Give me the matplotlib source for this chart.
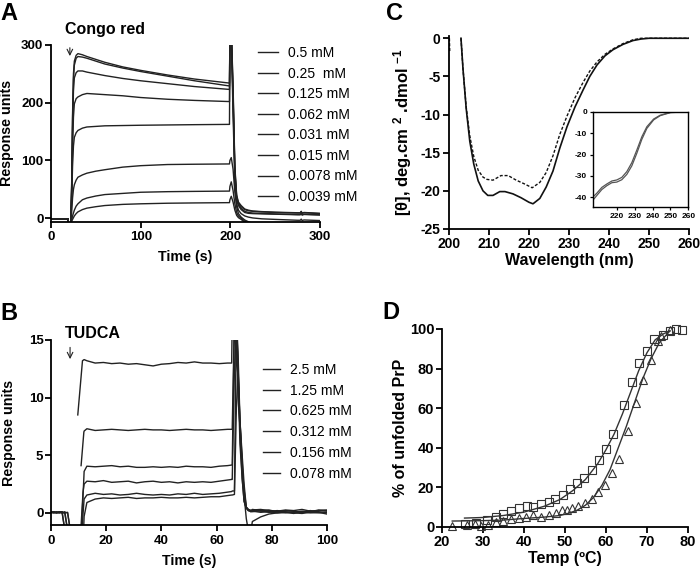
import matplotlib
matplotlib.use('Agg')
import matplotlib.pyplot as plt
import numpy as np

plt.rcParams['font.family'] = ['Liberation Sans', 'DejaVu Sans']
plt.rcParams['mathtext.fontset'] = 'custom'
plt.rcParams['mathtext.rm'] = 'Liberation Sans'
plt.rcParams['mathtext.bf'] = 'Liberation Sans:bold'
plt.rcParams['mathtext.default'] = 'bf'
plt.rcParams['axes.unicode_minus'] = False

# ---------------- panel A: Congo red sensorgrams ----------------
a_labels = ['0.5 mM', '0.25  mM', '0.125 mM', '0.062 mM', '0.031 mM',
            '0.015 mM', '0.0078 mM', '0.0039 mM']
a_base_t = [0, 19, 19.5, 22]
a_base_v = [-1, -1, -10, -10]
a_assoc_t = [23, 24, 25, 26, 28, 30, 35, 40, 50, 60, 80, 100, 130, 160, 199]
a_assoc = [
    [60, 180, 250, 272, 282, 285, 283, 280, 275, 270, 262, 256, 248, 241, 234],
    [55, 170, 240, 265, 277, 280, 279, 277, 272, 267, 260, 254, 246, 238, 229],
    [50, 150, 220, 243, 252, 255, 255, 253, 250, 247, 242, 238, 233, 228, 223],
    [40, 120, 175, 198, 207, 210, 214, 216, 215, 214, 212, 209, 206, 204, 202],
    [30, 90, 125, 140, 148, 152, 156, 158, 159, 160, 160.5, 161, 161.5, 162, 162.5],
    [10, 35, 50, 58, 66, 71, 75, 78, 81.5, 84, 88.5, 91, 93, 93.5, 94],
    [-3, 4, 9, 14, 21, 25, 32, 35, 38.5, 41, 43, 45, 46, 46.5, 47],
    [-5, -2, 1, 4, 8, 11, 15, 17.5, 20, 22, 24, 25, 26, 26.5, 27],
]
a_diss_t = [199.5, 201, 203, 205, 207, 209, 212, 216, 220, 225, 235, 250,
            275, 278, 279, 280, 282, 300]
a_diss = [
    [320, 330, 230, 90, 40, 28, 22, 16, 14, 12.5, 11.5, 10.5, 9.5, 9.5, 12, 9, 10, 8.5],
    [320, 330, 220, 85, 38, 26, 20, 15, 13, 12, 11, 10, 9, 9, 11.5, 8.5, 9.5, 8],
    [315, 325, 210, 80, 35, 24, 17, 12, 10, 9, 8.5, 7.5, 6.5, 6.5, 8.5, 6, 7, 6],
    [310, 320, 200, 75, 32, 22, 15, 10, 8.5, 8, 7.5, 7, 6, 6, 8, 5.5, 6.5, 5.5],
    [305, 315, 180, 60, 25, 14, 8, 4, 2, 0.5, -1, -2, -3.5, -3.5, -1.5, -4, -3, -4],
    [100, 105, 85, 45, 20, 8, 2, -3, -6, -9, -10, -10, -10, -10, -10, -10, -10, -10],
    [55, 63, 48, 25, 10, 4, 0, -5, -9, -10, -10, -10, -10, -10, -10, -10, -10, -10],
    [32, 38, 28, 14, 5, 1, -2, -7, -10, -10, -10, -10, -10, -10, -10, -10, -10, -10],
]

# ---------------- panel B: TUDCA sensorgrams ----------------
b_labels = ['2.5 mM', '1.25 mM', '0.625 mM', '0.312 mM', '0.156 mM', '0.078 mM']
b_base_t = [0, 1, 2, 3, 4, 5, 6, 7]
b_base = [
    [0.1, 0.05, 0.0, 0.1, 0.05, -1.5, -1.5, -1.5],
    [0.0, 0.1, 0.05, 0.0, 0.1, -0.05, -1.5, -1.5],
    [0.05, 0.0, 0.1, 0.05, 0.0, 0.1, -1.5, -1.5],
    [0.0, 0.05, 0.0, 0.1, 0.0, 0.05, 0.0, -1.5],
    [0.1, 0.0, 0.05, 0.0, 0.05, 0.0, 0.05, -1.5],
    [0.05, 0.1, 0.0, 0.05, 0.1, -1.5, -1.5, -1.5],
]
b_start_t = [[9.7, 11.4], [10.9, 11.9], [11.0, 11.8], [10.8, 11.6], [11.2, 11.9], [11.8, 11.95]]
b_start_v = [[8.5, 13.2], [4.1, 7.0], [-1.5, 2.5], [-1.5, 1.8], [-1.5, 0.9], [-1.5, -0.6]]
b_plat_t = [12, 13, 16, 19, 22, 25, 28, 31, 34, 37, 40, 43, 46, 49, 52, 55, 58, 61, 64, 65.5]
b_plat = [
    [13.3, 13.2, 13.0, 13.05, 12.95, 13.0, 12.9, 12.95, 12.85, 12.75, 12.9, 12.95,
     13.05, 13.0, 13.1, 13.0, 13.0, 12.95, 13.0, 13.0],
    [7.1, 7.3, 7.15, 7.2, 7.25, 7.2, 7.15, 7.2, 7.25, 7.2, 7.2, 7.15, 7.2, 7.25,
     7.2, 7.2, 7.15, 7.2, 7.25, 7.25],
    [3.6, 4.05, 4.0, 4.05, 4.1, 4.0, 4.05, 3.95, 3.95, 4.0, 3.95, 4.0, 3.95, 4.05,
     4.0, 4.0, 3.95, 4.05, 4.1, 4.15],
    [2.5, 2.75, 2.7, 2.8, 2.65, 2.7, 2.75, 2.6, 2.7, 2.75, 2.65, 2.7, 2.6, 2.7,
     2.65, 2.7, 2.65, 2.75, 2.85, 2.9],
    [1.2, 1.55, 1.7, 1.6, 1.65, 1.55, 1.6, 1.7, 1.6, 1.55, 1.6, 1.55, 1.65, 1.6,
     1.7, 1.6, 1.65, 1.7, 1.8, 1.85],
    [-0.3, 0.9, 1.2, 1.3, 1.25, 1.3, 1.35, 1.25, 1.3, 1.3, 1.35, 1.3, 1.3, 1.35,
     1.3, 1.35, 1.4, 1.4, 1.5, 1.55],
]
b_spike_t = [65.7, 66.5, 67.2, 67.8, 68.5, 69.3, 70, 70.8, 71.5, 72.5]
b_spike = [
    [17, 17, 17, 14, 8, 4, 1.5, 0.5, 0.3, 0.2],
    [7.3, 17, 17, 13, 7, 3, 1, 0.4, 0.2, 0.2],
    [4.2, 17, 13, 12, 6, 3, 1, 0.4, 0.3, 0.2],
    [2.9, 12.5, 16, 10, 7.5, 4, 2, 0.5, 0.3, 0.1],
    [1.9, 1.9, 17, 12, 8, 4.5, 1.5, -0.5, -1.5, -1.5],
    [1.55, 1.6, 9, 12.5, 8, 5, 2.5, 0.5, 0.2, 0.1],
]
b_tail_t = [73, 76, 79, 82, 85, 88, 91, 94, 97, 100]
b_tail = [
    [0.2, 0.15, 0.1, 0.2, 0.1, 0.05, 0.15, 0.1, 0.2, 0.15],
    [0.1, 0.2, 0.05, 0.1, 0.0, 0.1, 0.05, 0.2, 0.1, 0.0],
    [0.3, 0.2, 0.25, 0.1, 0.2, 0.15, 0.05, 0.1, 0.25, 0.2],
    [0.15, 0.05, 0.1, 0.0, 0.05, -0.05, 0.1, 0.0, 0.05, -0.1],
    [-0.75, -0.35, -0.1, 0.0, 0.05, 0.0, -0.05, 0.05, 0.0, 0.05],
    [0.25, 0.3, 0.2, 0.15, 0.25, 0.2, 0.3, 0.15, 0.2, 0.25],
]

# ---------------- panel C: CD spectra ----------------
c_wl_solid = [203, 203.5, 204.3, 205.2, 206.2, 207.3, 208.5, 209.7, 211, 212.7, 214,
              216, 218, 220, 221, 222.7, 224.3, 226, 227.7, 229.5, 231.5, 233.5,
              235.2, 237, 239, 241, 243.5, 246, 248, 250, 255, 260]
c_solid = [0, -4, -9.2, -13.5, -16.5, -18.7, -20, -20.6, -20.6, -20.1, -20.1,
           -20.4, -20.9, -21.5, -21.7, -21, -19.5, -17.4, -14.4, -11.6, -9, -6.8,
           -5, -3.5, -2.3, -1.5, -0.8, -0.3, -0.1, 0, 0, 0]
c_wl_dash = [200.1, 200.2, np.nan, 203, 203.5, 204.3, 205.2, 206.2, 207.3, 208.5,
             209.5, 211, 213, 214.8, 216.8, 218.9, 220.8, 222.7, 224.3, 226, 227.7,
             229.5, 231.5, 233.5, 235.2, 237, 239, 241, 243.5, 246, 248, 250, 255, 260]
c_dash = [0, -1.9, np.nan, 0, -4, -9, -12.8, -15.5, -17.3, -18.2,
          -18.5, -18.6, -18.0, -18.0, -18.6, -19.1, -19.6, -18.9, -17.6, -15.4, -12.6,
          -10.2, -7.8, -5.8, -4.3, -3.1, -2.1, -1.4, -0.7, -0.2, 0, 0, 0, 0]
inset_wl_1 = [206.5, 208.7, 211.6, 214.4, 217.2, 220, 222.8, 225.6, 228.4, 231.2,
              234, 236.8, 240.6, 244.3, 250, 260]
inset_v_1 = [-40, -38.2, -35.4, -33.8, -32.4, -31.9, -30.7, -28, -23.8, -17.9,
             -11.7, -7, -3.4, -1.6, -0.3, 0]
inset_wl_2 = [206.5, 208.7, 211.6, 214.4, 217.2, 220, 222.8, 225.6, 228.4, 231.2,
              234, 236.8, 240.6, 244.3, 250, 260]
inset_v_2 = [-41.5, -39.3, -36.4, -34.6, -33.2, -32.9, -31.8, -29.3, -25.3, -19.4,
             -12.9, -7.8, -3.8, -1.8, -0.4, 0]

# ---------------- panel D: thermal unfolding ----------------
d_sq_t = [25.7, 28.4, 30.9, 33.1, 35.0, 36.9, 38.7, 40.7, 42.1, 44.2, 46.0, 47.6,
          49.4, 51.2, 53.0, 54.6, 56.5, 58.3, 59.9, 61.8, 64.4, 66.3, 68.1, 70.1,
          71.8, 73.8, 75.7, 77.2, 78.5]
d_sq_v = [1.5, 2.0, 3.5, 5.0, 6.5, 8.0, 9.5, 10.5, 10.0, 11.5, 12.5, 14.0,
          16.0, 19.0, 22.0, 24.8, 28.7, 33.7, 39.5, 47.0, 61.4, 73.1, 82.9, 88.8,
          95.0, 97.0, 99.0, 100, 99.5]
d_tri_t = [22.4, 26.0, 28.0, 29.5, 31.3, 33.2, 35.0, 36.9, 38.7, 40.5, 42.3, 44.1,
           46.0, 47.8, 49.2, 50.4, 51.8, 53.2, 54.9, 56.5, 58.1, 59.8, 61.5, 63.2,
           65.4, 67.3, 69.1, 70.9, 72.6, 73.4, 75.6]
d_tri_v = [0.5, 1.2, 1.5, 0.3, 0.8, 2.5, 3.2, 3.8, 4.5, 5.2, 5.8, 5.0,
           6.0, 7.0, 8.5, 8.8, 9.7, 10.5, 11.9, 13.9, 17.6, 21.0, 27.4, 34.4,
           48.4, 62.7, 74.0, 84.2, 93.8, 96.4, 99.4]
d_fit_sq_t = [25.5, 30, 35, 40, 45, 48.8, 52, 55, 58, 60, 62, 64, 66, 68, 70, 72, 74, 75.6]
d_fit_sq_v = [4.5, 4.8, 5.8, 7.5, 10.5, 13.9, 18.5, 24, 32, 39, 47, 57, 68, 79, 88, 94.5, 97.5, 99]
d_fit_tri_t = [22.5, 30, 35, 40, 45, 48.8, 51, 53, 55, 57, 59, 61, 63, 65, 67, 69, 71, 73, 75.6]
d_fit_tri_v = [3.0, 3.2, 3.5, 4.3, 5.0, 5.8, 7.0, 8.5, 11, 15, 21, 29, 40, 51, 63, 75, 85, 93, 99]

line_col = '#222222'


def style(ax, size, xpad, ypad):
    for s in ['top', 'right']:
        ax.spines[s].set_visible(False)
    for s in ['left', 'bottom']:
        ax.spines[s].set_linewidth(1.3)
    ax.tick_params(direction='out', length=4, width=1.3, labelsize=size)
    ax.tick_params(axis='x', pad=xpad)
    ax.tick_params(axis='y', pad=ypad)
    for lab in ax.get_xticklabels() + ax.get_yticklabels():
        lab.set_fontweight('bold')


fig = plt.figure(figsize=(7, 5.72), dpi=100)

# ---- A ----
axA = fig.add_axes([0.0729, 0.6124, 0.3843, 0.309])
for i in range(8):
    t = a_base_t + a_assoc_t + a_diss_t
    v = a_base_v + a_assoc[i] + a_diss[i]
    axA.plot(t, v, color=line_col, lw=1.0, label=a_labels[i])
axA.set_xlim(0, 300)
axA.set_ylim(-6, 300)
axA.set_xticks([0, 100, 200, 300])
axA.set_yticks([0, 100, 200, 300])
style(axA, 9.5, 3, 1.5)
axA.set_xlabel('Time (s)', fontsize=10.3, fontweight='bold', labelpad=5)
axA.set_ylabel('Response units', fontsize=10.3, fontweight='bold', labelpad=5)
axA.text(15.6, 319, 'Congo red', fontsize=11.5, fontweight='bold', va='baseline')
axA.annotate('', xy=(21, 276), xytext=(21, 300), annotation_clip=False,
             arrowprops=dict(arrowstyle='->', lw=0.8, color=line_col))
axA.legend(loc='upper left', bbox_to_anchor=(0.7695, 0.993), frameon=False,
           fontsize=10, borderpad=0, borderaxespad=0, handlelength=1.45,
           handletextpad=0.72, labelspacing=0.47)

# ---- B ----
axB = fig.add_axes([0.0729, 0.0822, 0.394, 0.3234])
for i in range(6):
    t = b_base_t + [np.nan] + b_start_t[i] + b_plat_t + b_spike_t + b_tail_t
    v = b_base[i] + [np.nan] + b_start_v[i] + b_plat[i] + b_spike[i] + b_tail[i]
    axB.plot(t, v, color=line_col, lw=1.0, label=b_labels[i])
axB.set_xlim(0, 100)
axB.set_ylim(-1.05, 15)
axB.set_xticks([0, 20, 40, 60, 80, 100])
axB.set_yticks([0, 5, 10, 15])
style(axB, 9.5, 3, 1.5)
axB.set_xlabel('Time (s)', fontsize=10.3, fontweight='bold', labelpad=5)
axB.set_ylabel('Response units', fontsize=10.3, fontweight='bold', labelpad=9)
axB.text(5.1, 15.2, 'TUDCA', fontsize=11.5, fontweight='bold', va='baseline')
axB.annotate('', xy=(6.9, 13.1), xytext=(6.9, 14.6), annotation_clip=False,
             arrowprops=dict(arrowstyle='->', lw=0.8, color=line_col))
axB.legend(loc='upper left', bbox_to_anchor=(0.768, 0.877), frameon=False,
           fontsize=10, borderpad=0, borderaxespad=0, handlelength=1.25,
           handletextpad=0.72, labelspacing=0.49)

# ---- C ----
axC = fig.add_axes([0.6414, 0.5997, 0.3429, 0.3374])
axC.plot(c_wl_solid, c_solid, color='#111111', lw=1.2)
axC.plot(c_wl_dash, c_dash, color='#111111', lw=1.0, dashes=(2.2, 1.3))
axC.set_xlim(200, 260)
axC.set_ylim(-25, 0.3)
axC.set_xticks([200, 210, 220, 230, 240, 250, 260])
axC.set_yticks([0, -5, -10, -15, -20, -25])
style(axC, 10, 1.5, 2)
axC.set_xlabel('Wavelength (nm)', fontsize=11.5, fontweight='bold', labelpad=2)
axC.set_ylabel('[θ], deg.cm $^{2}$ .dmol $^{-1}$', fontsize=12, fontweight='bold',
               labelpad=5)

axI = fig.add_axes([0.8467, 0.6376, 0.1366, 0.167])
axI.plot(inset_wl_1, inset_v_1, color='#555555', lw=0.9)
axI.plot(inset_wl_2, inset_v_2, color='#555555', lw=0.9)
axI.set_xlim(206.5, 260)
axI.set_ylim(-44.7, 0)
axI.set_xticks([220, 230, 240, 250, 260])
axI.set_yticks([0, -10, -20, -30, -40])
for s in axI.spines.values():
    s.set_linewidth(1.0)
axI.tick_params(direction='out', length=2.5, width=0.9, labelsize=6, pad=1.5)
for lab in axI.get_xticklabels() + axI.get_yticklabels():
    lab.set_fontweight('bold')

# ---- D ----
axD = fig.add_axes([0.6314, 0.0787, 0.3514, 0.3462])
axD.plot(d_fit_sq_t, d_fit_sq_v, color='#333333', lw=1.0)
axD.plot(d_fit_tri_t, d_fit_tri_v, color='#333333', lw=1.0)
axD.plot(d_sq_t, d_sq_v, ls='none', marker='s', ms=6, mfc='none', mec='#333333',
         mew=0.8, clip_on=False)
axD.plot(d_tri_t, d_tri_v, ls='none', marker='^', ms=6, mfc='none', mec='#333333',
         mew=0.8, clip_on=False)
axD.set_xlim(20, 80)
axD.set_ylim(0, 100)
axD.set_xticks([20, 30, 40, 50, 60, 70, 80])
axD.set_yticks([0, 20, 40, 60, 80, 100])
style(axD, 10.5, 1.5, 1.5)
axD.set_xlabel('Temp (ºC)', fontsize=11.5, fontweight='bold', labelpad=2)
axD.set_ylabel('% of unfolded PrP', fontsize=11.5, fontweight='bold', labelpad=1)

# panel letters
fig.text(0.0, 0.997, 'A', fontsize=17, fontweight='bold', va='top', ha='left')
fig.text(0.0, 0.472, 'B', fontsize=17, fontweight='bold', va='top', ha='left')
fig.text(0.551, 0.997, 'C', fontsize=17, fontweight='bold', va='top', ha='left')
fig.text(0.546, 0.474, 'D', fontsize=17, fontweight='bold', va='top', ha='left')

fig.savefig('out.png', dpi=100)
